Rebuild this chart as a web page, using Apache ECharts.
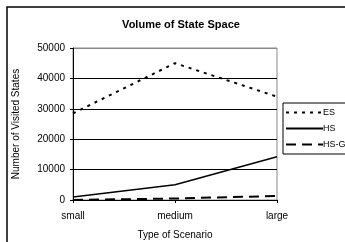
<!DOCTYPE html>
<html>
<head>
<meta charset="utf-8">
<script src="https://cdn.jsdelivr.net/npm/echarts@6/dist/echarts.min.js"></script>
<style>
  html, body { margin: 0; padding: 0; background: #fff; }
  #chart { width: 345px; height: 242px; }
</style>
</head>
<body>
<div id="chart"></div>
<script>
// scenario sizes along the x axis
var scenarios = ['small', 'medium', 'large'];
// number of visited states per approach
var esStates  = [28500, 45000, 34000];
var hsStates  = [1000, 5000, 14200];
var hsgStates = [0, 500, 1300];

var yTicks = [0, 10000, 20000, 30000, 40000, 50000];

var font = 'Liberation Sans, Arial, sans-serif';
var chart = echarts.init(document.getElementById('chart'));

function lineSeries(name, data, type, width) {
	return {
		name: name,
		type: 'line',
		data: data,
		symbol: 'none',
		animation: false,
		itemStyle: { color: '#000' },
		lineStyle: { color: '#000', width: width, type: type }
	};
}

chart.setOption({
	animation: false,
	color: ['#000'],
	title: {
		text: 'Volume of State Space',
		left: 176,
		textAlign: 'center',
		top: 14,
		textStyle: { fontFamily: font, fontSize: 11, fontWeight: 'bold', color: '#000' }
	},
	grid: {
		left: 73, right: 68, top: 48, bottom: 42,
		outerBoundsMode: 'none',
		show: true, borderColor: '#888', borderWidth: 1
	},
	legend: {
		orient: 'vertical',
		left: 283, top: 103,
		padding: [5, 40, 5, 2],
		borderColor: '#000', borderWidth: 1,
		itemWidth: 37, itemHeight: 8, itemGap: 7,
		itemStyle: { opacity: 0 },
		textStyle: { fontFamily: font, fontSize: 9, color: '#000', padding: [0, 0, 0, -5] },
		data: ['ES', 'HS', 'HS-G']
	},
	xAxis: {
		type: 'category',
		data: scenarios,
		boundaryGap: false,
		name: 'Type of Scenario',
		nameLocation: 'middle',
		nameGap: 30,
		nameTextStyle: { fontFamily: font, fontSize: 10, color: '#000' },
		axisLine: { lineStyle: { color: '#000', width: 1 } },
		axisTick: { show: true, length: 3, lineStyle: { color: '#000' } },
		axisLabel: { fontFamily: font, fontSize: 10, color: '#000', margin: 11 },
		splitLine: { show: false }
	},
	yAxis: {
		type: 'value',
		min: yTicks[0],
		max: yTicks[yTicks.length - 1],
		interval: 10000,
		name: 'Number of Visited States',
		nameLocation: 'middle',
		nameGap: 52,
		nameTextStyle: { fontFamily: font, fontSize: 10, color: '#000' },
		axisLine: { show: true, lineStyle: { color: '#000', width: 1 } },
		axisTick: { show: true, length: 3, lineStyle: { color: '#000' } },
		axisLabel: {
			fontFamily: font, fontSize: 10, color: '#000', margin: 8,
			formatter: function (v) { return String(v); }
		},
		splitLine: { show: true, lineStyle: { color: ['#000', '#000', '#000', '#000', '#000', '#888'], width: 1 } }
	},
	graphic: [{
		type: 'rect',
		shape: { x: 7, y: 7, width: 400, height: 300 },
		style: { fill: 'none', stroke: '#000', lineWidth: 1.5 },
		silent: true
	}],
	series: [
		lineSeries('ES', esStates, [3, 5], 2),
		lineSeries('HS', hsStates, 'solid', 1.5),
		lineSeries('HS-G', hsgStates, [10, 6], 2)
	]
});
</script>
</body>
</html>
